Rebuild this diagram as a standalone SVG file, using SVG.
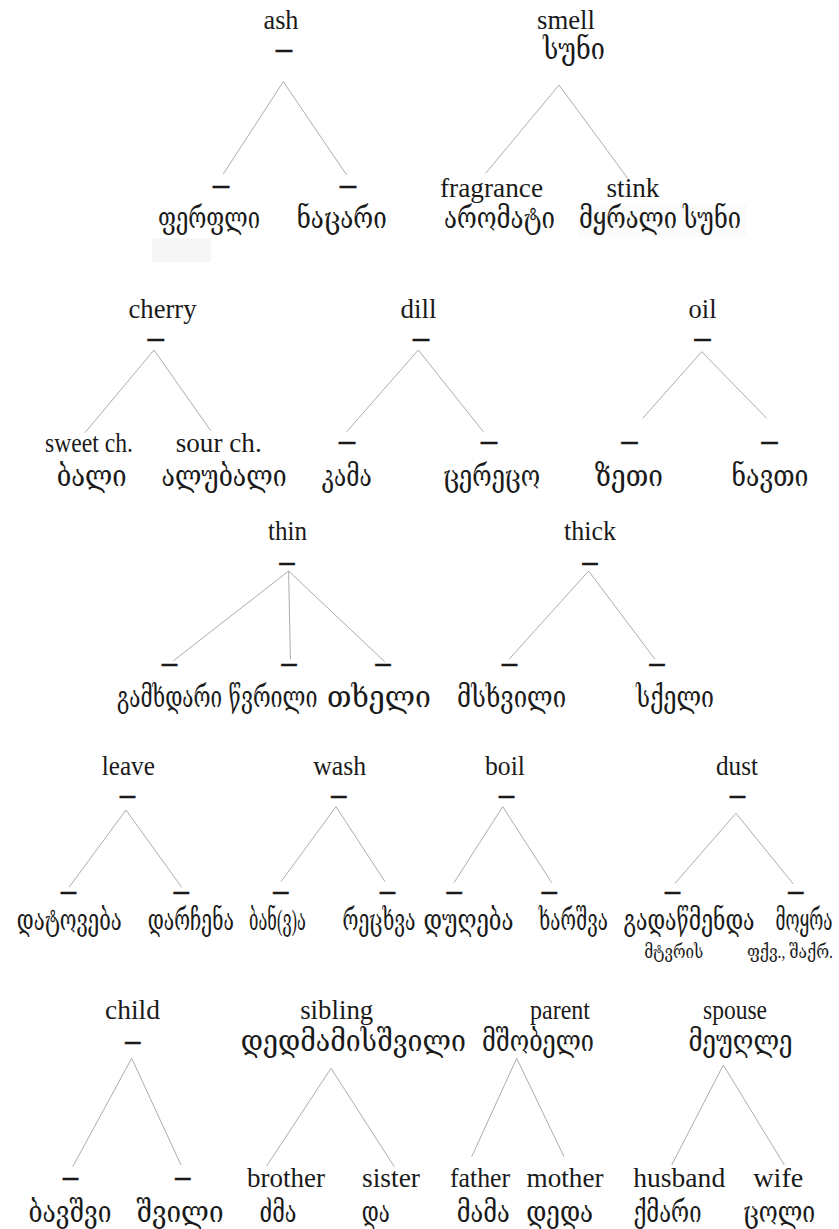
<svg xmlns="http://www.w3.org/2000/svg" width="839" height="1229" viewBox="0 0 839 1229">
<style>
text{font-family:"Liberation Serif","DejaVu Serif","DejaVu Sans",serif;font-size:28px;fill:#1a1a1a;text-anchor:middle}
.g{font-size:29px;font-weight:normal}
.s{font-size:19px}
.d{font-size:28px;font-weight:bold;stroke:#1a1a1a;stroke-width:0.5}
.ln line{stroke:#a3a3a3;stroke-width:0.9}
</style>
<rect width="839" height="1229" fill="#fff"/>
<rect x="152" y="238" width="59" height="24" fill="#f6f6f6"/>
<rect x="578" y="205" width="169" height="32" fill="#fbfbfb"/>
<g id="connectors" class="ln">
<line x1="283.3" y1="81.7" x2="223.3" y2="174"/><line x1="283.3" y1="81.7" x2="346.7" y2="175"/>
<line x1="559" y1="85" x2="485.7" y2="173.3"/><line x1="559" y1="85" x2="627.7" y2="178.3"/>
<line x1="154" y1="350" x2="85" y2="432.7"/><line x1="154" y1="350" x2="210.7" y2="430.7"/>
<line x1="418.3" y1="350" x2="346.7" y2="431.7"/><line x1="418.3" y1="350" x2="483.3" y2="431.7"/>
<line x1="701.7" y1="351.7" x2="642.7" y2="418.3"/><line x1="701.7" y1="351.7" x2="766.7" y2="418.3"/>
<line x1="288.6" y1="571" x2="173.2" y2="661"/><line x1="288.6" y1="571" x2="290.4" y2="659.3"/><line x1="288.6" y1="571" x2="385" y2="662"/>
<line x1="588.6" y1="571" x2="509" y2="659.3"/><line x1="588.6" y1="571" x2="655" y2="659.3"/>
<line x1="126" y1="810" x2="69" y2="887.3"/><line x1="126" y1="810" x2="181.7" y2="887.3"/>
<line x1="336" y1="806.7" x2="281" y2="881.7"/><line x1="336" y1="806.7" x2="385" y2="881.7"/>
<line x1="502.7" y1="806.7" x2="454" y2="882.7"/><line x1="502.7" y1="806.7" x2="551.7" y2="882.7"/>
<line x1="736" y1="813.3" x2="675" y2="883.3"/><line x1="736" y1="813.3" x2="793.3" y2="884"/>
<line x1="131.7" y1="1058.3" x2="72.7" y2="1166.7"/><line x1="131.7" y1="1058.3" x2="181" y2="1165"/>
<line x1="331" y1="1068.3" x2="266.7" y2="1166"/><line x1="331" y1="1068.3" x2="394.3" y2="1166.7"/>
<line x1="516.7" y1="1058.3" x2="471.7" y2="1156.7"/><line x1="516.7" y1="1058.3" x2="564" y2="1156.7"/>
<line x1="723.3" y1="1065" x2="671.7" y2="1165"/><line x1="723.3" y1="1065" x2="784.3" y2="1165"/>
</g>
<g id="ash"><text x="281" y="29" textLength="35" lengthAdjust="spacingAndGlyphs">ash</text><text class="d" x="284" y="57" textLength="16" lengthAdjust="spacingAndGlyphs">–</text></g>
<g id="ash-1"><text class="d" x="221" y="193" textLength="16" lengthAdjust="spacingAndGlyphs">–</text><text class="g" x="209" y="228" textLength="102" lengthAdjust="spacingAndGlyphs">ფერფლი</text></g>
<g id="ash-2"><text class="d" x="348" y="193" textLength="16" lengthAdjust="spacingAndGlyphs">–</text><text class="g" x="341.7" y="228" textLength="90" lengthAdjust="spacingAndGlyphs">ნაცარი</text></g>
<g id="smell"><text x="566" y="29" textLength="58" lengthAdjust="spacingAndGlyphs">smell</text><text class="g" x="574" y="59" textLength="62" lengthAdjust="spacingAndGlyphs">სუნი</text></g>
<g id="fragrance"><text x="491.5" y="197" textLength="103" lengthAdjust="spacingAndGlyphs">fragrance</text><text class="g" x="499.5" y="228" textLength="111" lengthAdjust="spacingAndGlyphs">არომატი</text></g>
<g id="stink"><text x="633" y="197" textLength="53" lengthAdjust="spacingAndGlyphs">stink</text><text class="g" x="660" y="228" textLength="162" lengthAdjust="spacingAndGlyphs">მყრალი სუნი</text></g>
<g id="cherry"><text x="162.5" y="318" textLength="68" lengthAdjust="spacingAndGlyphs">cherry</text><text class="d" x="155.8" y="345.7" textLength="16" lengthAdjust="spacingAndGlyphs">–</text></g>
<g id="sweet"><text x="89" y="451.7" textLength="88" lengthAdjust="spacingAndGlyphs">sweet ch.</text><text class="g" x="91.7" y="486" textLength="70" lengthAdjust="spacingAndGlyphs">ბალი</text></g>
<g id="sour"><text x="218.7" y="451.7" textLength="86" lengthAdjust="spacingAndGlyphs">sour ch.</text><text class="g" x="224" y="486" textLength="125" lengthAdjust="spacingAndGlyphs">ალუბალი</text></g>
<g id="dill"><text x="418.5" y="318" textLength="36" lengthAdjust="spacingAndGlyphs">dill</text><text class="d" x="421" y="345.7" textLength="16" lengthAdjust="spacingAndGlyphs">–</text></g>
<g id="dill-1"><text class="d" x="347" y="449" textLength="16" lengthAdjust="spacingAndGlyphs">–</text><text class="g" x="346.7" y="486" textLength="50" lengthAdjust="spacingAndGlyphs">კამა</text></g>
<g id="dill-2"><text class="d" x="489" y="449" textLength="16" lengthAdjust="spacingAndGlyphs">–</text><text class="g" x="491.7" y="486" textLength="97" lengthAdjust="spacingAndGlyphs">ცერეცო</text></g>
<g id="oil"><text x="702.5" y="318" textLength="28" lengthAdjust="spacingAndGlyphs">oil</text><text class="d" x="702.5" y="345.7" textLength="16" lengthAdjust="spacingAndGlyphs">–</text></g>
<g id="oil-1"><text class="d" x="629.5" y="449" textLength="16" lengthAdjust="spacingAndGlyphs">–</text><text class="g" x="628.8" y="486" textLength="68" lengthAdjust="spacingAndGlyphs">ზეთი</text></g>
<g id="oil-2"><text class="d" x="769.5" y="449" textLength="16" lengthAdjust="spacingAndGlyphs">–</text><text class="g" x="770" y="486" textLength="77" lengthAdjust="spacingAndGlyphs">ნავთი</text></g>
<g id="thin"><text x="287.5" y="539.6" textLength="39" lengthAdjust="spacingAndGlyphs">thin</text><text class="d" x="287" y="569.6" textLength="15" lengthAdjust="spacingAndGlyphs">–</text></g>
<g id="thin-1"><text class="d" x="169.6" y="671.4" textLength="15" lengthAdjust="spacingAndGlyphs">–</text><text class="g" x="169.6" y="707" textLength="105" lengthAdjust="spacingAndGlyphs">გამხდარი</text></g>
<g id="thin-2"><text class="d" x="289" y="671.4" textLength="15" lengthAdjust="spacingAndGlyphs">–</text><text class="g" x="273" y="707" textLength="89" lengthAdjust="spacingAndGlyphs">წვრილი</text></g>
<g id="thin-3"><text class="d" x="383" y="671.4" textLength="15" lengthAdjust="spacingAndGlyphs">–</text><text class="g" x="379" y="707" textLength="104" lengthAdjust="spacingAndGlyphs">თხელი</text></g>
<g id="thick"><text x="590" y="539.6" textLength="52" lengthAdjust="spacingAndGlyphs">thick</text><text class="d" x="590" y="569.6" textLength="15" lengthAdjust="spacingAndGlyphs">–</text></g>
<g id="thick-1"><text class="d" x="509.5" y="671.4" textLength="15" lengthAdjust="spacingAndGlyphs">–</text><text class="g" x="511.6" y="707" textLength="109" lengthAdjust="spacingAndGlyphs">მსხვილი</text></g>
<g id="thick-2"><text class="d" x="657" y="671.4" textLength="15" lengthAdjust="spacingAndGlyphs">–</text><text class="g" x="675" y="707" textLength="78" lengthAdjust="spacingAndGlyphs">სქელი</text></g>
<g id="leave"><text x="128.3" y="775" textLength="53" lengthAdjust="spacingAndGlyphs">leave</text><text class="d" x="127.5" y="803.3" textLength="15" lengthAdjust="spacingAndGlyphs">–</text></g>
<g id="leave-1"><text class="d" x="68.5" y="899.3" textLength="15" lengthAdjust="spacingAndGlyphs">–</text><text class="g" x="69.3" y="930" textLength="105" lengthAdjust="spacingAndGlyphs">დატოვება</text></g>
<g id="leave-2"><text class="d" x="181.2" y="899.3" textLength="15" lengthAdjust="spacingAndGlyphs">–</text><text class="g" x="190.8" y="930" textLength="86" lengthAdjust="spacingAndGlyphs">დარჩენა</text></g>
<g id="wash"><text x="339.7" y="775" textLength="53" lengthAdjust="spacingAndGlyphs">wash</text><text class="d" x="338.8" y="803.3" textLength="15" lengthAdjust="spacingAndGlyphs">–</text></g>
<g id="wash-1"><text class="d" x="280.8" y="899.3" textLength="15" lengthAdjust="spacingAndGlyphs">–</text><text class="g" x="277.5" y="930" textLength="57" lengthAdjust="spacingAndGlyphs">ბან(ვ)ა</text></g>
<g id="wash-2"><text class="d" x="387.5" y="899.3" textLength="15" lengthAdjust="spacingAndGlyphs">–</text><text class="g" x="379" y="930" textLength="73" lengthAdjust="spacingAndGlyphs">რეცხვა</text></g>
<g id="boil"><text x="505" y="775" textLength="40" lengthAdjust="spacingAndGlyphs">boil</text><text class="d" x="506.5" y="803.3" textLength="15" lengthAdjust="spacingAndGlyphs">–</text></g>
<g id="boil-1"><text class="d" x="454.2" y="899.3" textLength="15" lengthAdjust="spacingAndGlyphs">–</text><text class="g" x="468.5" y="930" textLength="90" lengthAdjust="spacingAndGlyphs">დუღება</text></g>
<g id="boil-2"><text class="d" x="549.2" y="899.3" textLength="15" lengthAdjust="spacingAndGlyphs">–</text><text class="g" x="573.3" y="930" textLength="69" lengthAdjust="spacingAndGlyphs">ხარშვა</text></g>
<g id="dust"><text x="737" y="775" textLength="42" lengthAdjust="spacingAndGlyphs">dust</text><text class="d" x="737.5" y="803.3" textLength="15" lengthAdjust="spacingAndGlyphs">–</text></g>
<g id="dust-1"><text class="d" x="672.5" y="899.3" textLength="15" lengthAdjust="spacingAndGlyphs">–</text><text class="g" x="689" y="930" textLength="131" lengthAdjust="spacingAndGlyphs">გადაწმენდა</text><text class="s" x="673.7" y="958" textLength="59" lengthAdjust="spacingAndGlyphs">მტვრის</text></g>
<g id="dust-2"><text class="d" x="795.8" y="899.3" textLength="15" lengthAdjust="spacingAndGlyphs">–</text><text class="g" x="804" y="930" textLength="57" lengthAdjust="spacingAndGlyphs">მოყრა</text><text class="s" x="790" y="958" textLength="86" lengthAdjust="spacingAndGlyphs">ფქვ., შაქრ.</text></g>
<g id="child"><text x="132.5" y="1019" textLength="55" lengthAdjust="spacingAndGlyphs">child</text><text class="d" x="132.8" y="1049" textLength="15" lengthAdjust="spacingAndGlyphs">–</text></g>
<g id="child-1"><text class="d" x="70.5" y="1185" textLength="15" lengthAdjust="spacingAndGlyphs">–</text><text class="g" x="70" y="1222" textLength="83" lengthAdjust="spacingAndGlyphs">ბავშვი</text></g>
<g id="child-2"><text class="d" x="182.8" y="1185" textLength="15" lengthAdjust="spacingAndGlyphs">–</text><text class="g" x="180" y="1222" textLength="87" lengthAdjust="spacingAndGlyphs">შვილი</text></g>
<g id="sibling"><text x="336.7" y="1019" textLength="73" lengthAdjust="spacingAndGlyphs">sibling</text><text class="g" x="353.3" y="1051" textLength="225" lengthAdjust="spacingAndGlyphs">დედმამისშვილი</text></g>
<g id="brother"><text x="286" y="1187" textLength="78" lengthAdjust="spacingAndGlyphs">brother</text><text class="g" x="278" y="1222" textLength="37" lengthAdjust="spacingAndGlyphs">ძმა</text></g>
<g id="sister"><text x="391" y="1187" textLength="58" lengthAdjust="spacingAndGlyphs">sister</text><text class="g" x="375.8" y="1222" textLength="28" lengthAdjust="spacingAndGlyphs">და</text></g>
<g id="parent"><text x="560" y="1019" textLength="60" lengthAdjust="spacingAndGlyphs">parent</text><text class="g" x="538" y="1051" textLength="112" lengthAdjust="spacingAndGlyphs">მშობელი</text></g>
<g id="father"><text x="480" y="1187" textLength="60" lengthAdjust="spacingAndGlyphs">father</text><text class="g" x="483.3" y="1222" textLength="53" lengthAdjust="spacingAndGlyphs">მამა</text></g>
<g id="mother"><text x="565" y="1187" textLength="77" lengthAdjust="spacingAndGlyphs">mother</text><text class="g" x="559.7" y="1222" textLength="67" lengthAdjust="spacingAndGlyphs">დედა</text></g>
<g id="spouse"><text x="735" y="1019" textLength="64" lengthAdjust="spacingAndGlyphs">spouse</text><text class="g" x="740.5" y="1051" textLength="104" lengthAdjust="spacingAndGlyphs">მეუღლე</text></g>
<g id="husband"><text x="679.2" y="1187" textLength="92" lengthAdjust="spacingAndGlyphs">husband</text><text class="g" x="667.5" y="1222" textLength="68" lengthAdjust="spacingAndGlyphs">ქმარი</text></g>
<g id="wife"><text x="778.3" y="1187" textLength="50" lengthAdjust="spacingAndGlyphs">wife</text><text class="g" x="779.2" y="1222" textLength="72" lengthAdjust="spacingAndGlyphs">ცოლი</text></g>
</svg>
